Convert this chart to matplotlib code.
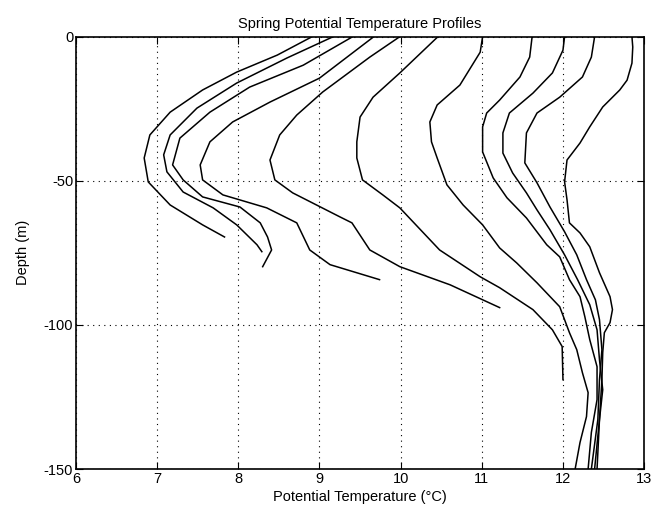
import matplotlib
matplotlib.use("Agg")
import matplotlib.pyplot as plt

plt.rcParams['font.family'] = ['Liberation Sans', 'DejaVu Sans']
plt.rcParams['axes.unicode_minus'] = False

# профили потенциальной температуры (градусы C) и глубины (м)
t1 = [8.91, 8.48, 7.98, 7.56, 7.16, 6.91, 6.84, 6.89, 7.16, 7.56, 7.83]
d1 = [0, -6.4, -12.3, -18.5, -26.2, -34.1, -42.1, -50.4, -58.4, -65.3, -69.5]

t2 = [9.17, 8.60, 7.98, 7.49, 7.16, 7.08, 7.12, 7.32, 7.69, 7.98, 8.23, 8.29]
d2 = [0, -7.4, -16.1, -24.8, -34.1, -41.0, -46.9, -53.9, -59.4, -65.3, -72.2, -74.6]

t3 = [9.41, 8.80, 8.14, 7.65, 7.28, 7.19, 7.32, 7.56, 8.02, 8.27, 8.36, 8.41, 8.30]
d3 = [0, -9.9, -17.5, -26.2, -35.2, -44.5, -49.7, -55.6, -59.1, -64.6, -69.5, -74.0, -79.8]

t4 = [9.67, 9.00, 8.39, 7.93, 7.65, 7.53, 7.56, 7.81, 8.35, 8.72, 8.88, 9.13, 9.74]
d4 = [0, -14.4, -22.7, -29.6, -36.5, -44.5, -49.7, -54.9, -59.4, -64.6, -74.0, -79.1, -84.3]

t5 = [9.99, 9.62, 9.04, 8.72, 8.51, 8.39, 8.45, 8.67, 9.25, 9.40, 9.62, 9.99, 10.61, 11.22]
d5 = [0, -7.1, -19.2, -27.2, -34.1, -42.8, -49.7, -54.2, -62.5, -64.6, -74.0, -79.8, -86.1, -94.0]

t6 = [10.46, 9.99, 9.66, 9.50, 9.46, 9.46, 9.53, 9.78, 9.99, 10.48, 10.98, 11.22, 11.63,
      11.87, 11.99, 12.00]
d6 = [0, -12.6, -21.0, -27.9, -36.5, -42.1, -49.7, -54.9, -59.4, -74.0, -83.3, -87.1, -94.7,
      -101.7, -107.5, -119.0]

t7 = [11.01, 10.98, 10.73, 10.45, 10.36, 10.38, 10.45, 10.57, 10.77, 11.01, 11.22, 11.43,
      11.68, 11.96, 12.08, 12.17, 12.24, 12.31, 12.29, 12.21, 12.15]
d7 = [0, -5.4, -16.8, -23.7, -29.6, -36.5, -42.1, -51.4, -58.4, -65.3, -73.3, -78.5,
      -85.4, -93.7, -102.7, -108.6, -116.6, -123.5, -131.8, -140.8, -150]

t8 = [11.62, 11.59, 11.47, 11.22, 11.06, 11.01, 11.01, 11.14, 11.31, 11.55, 11.80, 11.96,
      12.08, 12.21, 12.27, 12.33, 12.42, 12.42, 12.35, 12.31]
d8 = [0, -7.1, -14.0, -22.0, -26.5, -31.3, -40.0, -49.0, -55.9, -62.9, -72.2, -76.4,
      -84.3, -90.2, -97.2, -105.1, -114.5, -125.9, -137.3, -150]

t9 = [12.02, 12.00, 11.87, 11.63, 11.34, 11.26, 11.26, 11.38, 11.55, 11.68, 11.84, 12.02,
      12.18, 12.33, 12.42, 12.45, 12.49, 12.45, 12.39]
d9 = [0, -4.7, -12.6, -19.6, -26.5, -33.4, -40.4, -47.3, -54.2, -60.1, -67.0, -75.7,
      -84.3, -93.0, -101.7, -112.1, -122.5, -132.8, -150]

t10 = [12.39, 12.35, 12.24, 11.96, 11.68, 11.55, 11.53, 11.68, 11.84, 12.02, 12.17, 12.29,
       12.40, 12.45, 12.48, 12.45, 12.43, 12.35]
d10 = [0, -7.1, -14.0, -21.0, -26.5, -33.4, -43.8, -50.7, -59.1, -67.7, -75.7, -84.3,
       -91.3, -98.2, -108.6, -119.0, -132.8, -150]

t11 = [12.85, 12.86, 12.85, 12.79, 12.70, 12.49, 12.33, 12.21, 12.05, 12.02, 12.05, 12.08,
       12.21, 12.33, 12.45, 12.58, 12.61, 12.58, 12.51, 12.49, 12.48, 12.45, 12.42]
d11 = [0, -3.6, -9.2, -15.1, -18.5, -24.4, -31.3, -36.9, -42.8, -50.4, -56.6, -64.6,
       -68.1, -72.9, -81.9, -90.2, -94.7, -99.2, -102.7, -109.6, -119.0, -132.8, -150]

temps = [t1, t2, t3, t4, t5, t6, t7, t8, t9, t10, t11]
depths = [d1, d2, d3, d4, d5, d6, d7, d8, d9, d10, d11]

fig = plt.figure(figsize=(6.53, 5.16), dpi=100)
ax = fig.add_axes([0.1164, 0.091, 0.870, 0.838])

for t, d in zip(temps, depths):
    ax.plot(t, d, color='black', linewidth=1.1)

ax.set_xlim(6, 13)
ax.set_ylim(-150, 0)
ax.set_xticks(range(6, 14))
ax.set_yticks([-150, -100, -50, 0])
ax.grid(True, color='black', linestyle=(0, (1, 4)), linewidth=0.8)
ax.tick_params(direction='in', top=True, right=True, labelsize=10.5, length=5, pad=2)
for s in ax.spines.values():
    s.set_linewidth(1.2)

ax.set_title('Spring Potential Temperature Profiles', fontsize=10.5, pad=6)
ax.set_xlabel('Potential Temperature (°C)', fontsize=10.5, labelpad=3)
ax.set_ylabel('Depth (m)', fontsize=10.5, labelpad=10)

fig.savefig('out.png', dpi=100)
